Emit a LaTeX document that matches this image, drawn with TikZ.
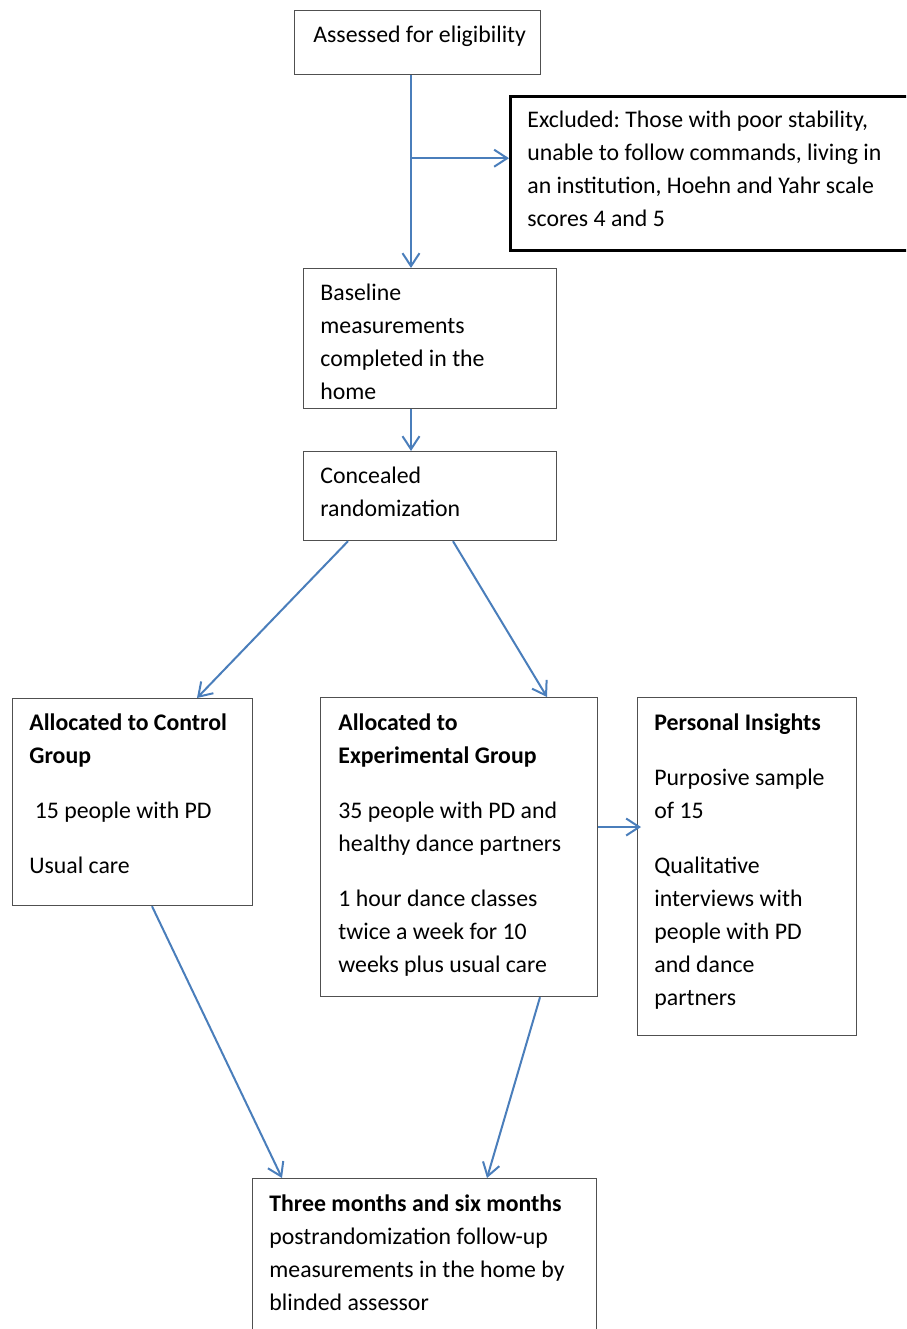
\documentclass[tikz,border=0pt]{standalone}
\usepackage{fontspec}
\setmainfont{Carlito}
\usetikzlibrary{arrows.meta,calc}
\definecolor{arrowblue}{HTML}{4A7EBB}
\definecolor{boxgray}{HTML}{505050}
\newcommand\topstrut{\rule{0pt}{10pt}}
\frenchspacing
\tikzset{
  box/.style={draw=boxgray, line width=0.6pt, rectangle, inner sep=0pt, anchor=north west},
  thickbox/.style={draw=black, line width=1.25pt, rectangle, inner sep=0pt, anchor=north west},
  txt/.style={anchor=north west, inner sep=0pt, align=left, font=\fontsize{11.9}{16.5}\selectfont, execute at begin node=\topstrut},
  flow/.style={draw=arrowblue, line width=1pt, -{Straight Barb[length=6.5pt,width=8.5pt]}}
}
\begin{document}
\begin{tikzpicture}[x=0.5pt,y=-0.5pt]
\clip (0,0) rectangle (906,1329);
\fill[white] (0,0) rectangle (906,1329);
% boxes
\node[box, minimum width=123pt, minimum height=32pt] (assess) at (294,10) {};
\node[thickbox, minimum width=205pt, minimum height=77pt] (excl) at (509,95) {};
\node[box, minimum width=126.5pt, minimum height=70pt] (base) at (303,268) {};
\node[box, minimum width=126.5pt, minimum height=44.5pt] (conc) at (303,451) {};
\node[box, minimum width=120pt, minimum height=103.5pt] (ctrl) at (12,698) {};
\node[box, minimum width=138.5pt, minimum height=149.5pt] (exp) at (320,697) {};
\node[box, minimum width=109.5pt, minimum height=169pt] (ins) at (637,697) {};
\node[box, minimum width=172pt, minimum height=100pt] (foll) at (252,1178) {};
% texts
\node[txt] (assess-t) at ($(assess.north west)+(19,12)$) {Assessed for eligibility};
\node[txt] (excl-t) at ($(excl.north west)+(18,16)$) {Excluded: Those with poor stability,\\unable to follow commands, living in\\an institution, Hoehn and Yahr scale\\scores 4 and 5};
\node[txt] (base-t) at ($(base.north west)+(17,16)$) {Baseline\\measurements\\completed in the\\home};
\node[txt] (conc-t) at ($(conc.north west)+(17,16)$) {Concealed\\randomization};
\node[txt] (ctrl-t) at ($(ctrl.north west)+(17,15)$) {\textbf{Allocated to Control}\\\textbf{Group}\\[11pt]\ 15 people with PD\\[11pt]Usual care};
\node[txt] (exp-t) at ($(exp.north west)+(18,16)$) {\textbf{Allocated to}\\\textbf{Experimental Group}\\[11pt]35 people with PD and\\healthy dance partners\\[11pt]1 hour dance classes\\twice a week for 10\\weeks plus usual care};
\node[txt] (ins-t) at ($(ins.north west)+(17,16)$) {\textbf{Personal Insights}\\[11pt]Purposive sample\\of 15\\[11pt]Qualitative\\interviews with\\people with PD\\and dance\\partners};
\node[txt] (foll-t) at ($(foll.north west)+(17,16)$) {\textbf{Three months and six months}\\postrandomization follow-up\\measurements in the home by\\blinded assessor};
% connectors
\coordinate (br) at ($(assess.south west)+(117,83)$);
\draw[flow] ($(assess.south west)+(117,0)$) -- ($(base.north west)+(108,0)$);
\draw[flow] (br) -- (br -| excl.west);
\draw[flow] ($(base.south west)+(108,0)$) -- ($(conc.north west)+(108,0)$);
\draw[flow] ($(conc.south west)+(45,0)$) -- ($(ctrl.north west)+(185,0)$);
\draw[flow] ($(conc.south west)+(150,0)$) -- ($(exp.north west)+(227,0)$);
\draw[flow] ($(exp.north east)+(0,130)$) -- ($(ins.north west)+(4,130)$);
\draw[flow] ($(ctrl.south west)+(140,0)$) -- ($(foll.north west)+(30,0)$);
\draw[flow] ($(exp.south west)+(220,0)$) -- ($(foll.north west)+(235,0)$);
\end{tikzpicture}
\end{document}
